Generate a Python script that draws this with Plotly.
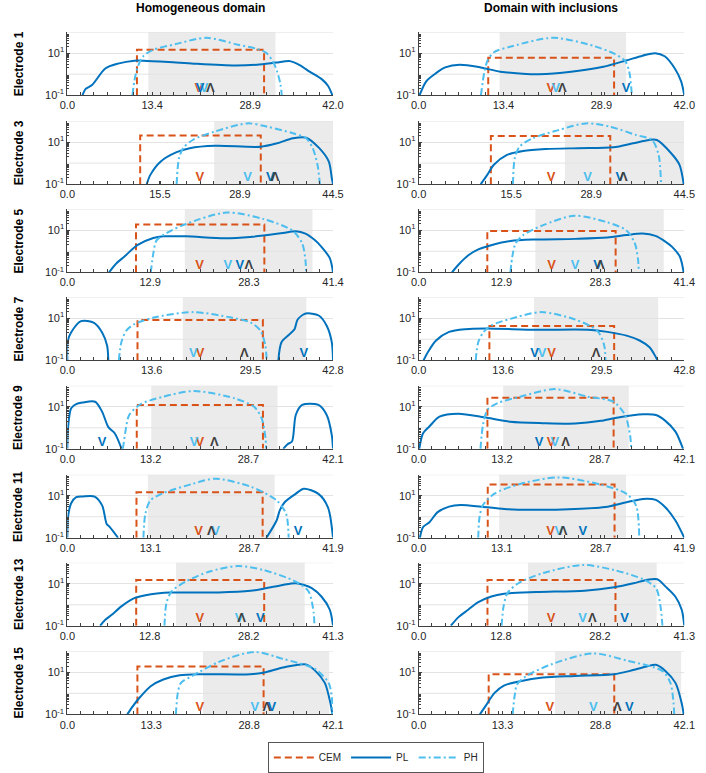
import numpy as np
import plotly.graph_objects as go

# ---------------- data ----------------
electrodes = [1, 3, 5, 7, 9, 11, 13, 15]
column_titles = ["Homogeneous domain", "Domain with inclusions"]
x_max = [42.0, 44.5, 41.4, 42.8, 42.1, 41.9, 41.3, 42.1]
x_ticks = [
    [0.0, 13.4, 28.9, 42.0],
    [0.0, 15.5, 28.9, 44.5],
    [0.0, 12.9, 28.3, 41.4],
    [0.0, 13.6, 29.5, 42.8],
    [0.0, 13.2, 28.7, 42.1],
    [0.0, 13.1, 28.7, 41.9],
    [0.0, 12.8, 28.2, 41.3],
    [0.0, 13.3, 28.8, 42.1],
]
y_tick_vals = [0.1, 10]
y_tick_text = ["10<sup>-1</sup>", "10<sup>1</sup>"]
y_extra_grid = [1, 100]

# ---- homogeneous domain (amplitudes given as log10 values) ----
hom_shade = [[12.8, 32.9], [24.6, 44.5], [18.3, 38.2], [18.6, 38.5],
             [13.3, 33.3], [12.7, 32.7], [16.9, 36.9], [21.5, 41.5]]
hom_cem_x = [[11.0, 31.1], [12.2, 32.4], [10.7, 30.7], [11.3, 31.5],
             [11.0, 31.0], [10.9, 30.8], [10.7, 30.6], [11.1, 31.1]]
hom_cem_log10 = [1.16, 1.31, 1.27, 0.91, 1.09, 1.16, 1.18, 1.28]
hom_ph_x = [
    [10.3, 10.6, 11.2, 12.0, 13.5, 17.0, 22.0, 27.0, 30.0, 31.5, 32.5, 33.2, 33.7, 33.9],
    [18.3, 18.7, 19.4, 21.0, 24.7, 30.2, 33.5, 37.8, 40.0, 41.1, 41.9, 42.3],
    [13.0, 13.4, 13.9, 15.5, 18.5, 24.8, 30.6, 35.1, 36.6, 37.1, 37.2],
    [8.3, 8.7, 9.5, 10.8, 13.9, 20.2, 26.4, 29.5, 31.1, 31.9, 32.1],
    [8.8, 9.2, 9.8, 11.6, 15.2, 20.1, 26.5, 29.6, 30.8, 31.4, 31.5],
    [12.0, 12.3, 13.1, 15.1, 19.7, 23.3, 28.9, 33.0, 34.5, 34.9],
    [15.1, 15.4, 16.2, 18.4, 22.0, 26.5, 30.5, 35.5, 37.5, 38.3, 38.4],
    [17.2, 17.5, 18.0, 19.8, 23.9, 29.6, 34.2, 39.3, 41.4, 41.9, 42.0],
]
hom_ph_log10 = [
    [-1, -0.3, 0.4, 0.85, 1.15, 1.42, 1.73, 1.4, 1.2, 1.0, 0.6, 0.1, -0.5, -1],
    [-1, 0.23, 0.71, 1.1, 1.5, 1.89, 1.73, 1.42, 1.18, 0.71, -0.08, -1],
    [-1, -0.1, 0.52, 0.87, 1.3, 1.84, 1.53, 0.98, 0.37, -0.41, -1],
    [-1, -0.14, 0.41, 0.72, 1.03, 1.29, 1.03, 0.8, 0.41, -0.3, -1],
    [-1, -0.18, 0.61, 1.12, 1.48, 1.75, 1.4, 1.0, 0.45, -0.49, -1],
    [-1, 0.14, 0.78, 1.12, 1.56, 1.81, 1.43, 0.78, 0.14, -1],
    [-1, 0.07, 0.63, 1.1, 1.57, 1.84, 1.65, 1.1, 0.63, -0.4, -1],
    [-1, 0.01, 0.5, 0.83, 1.48, 1.97, 1.64, 1.15, 0.5, -0.15, -1],
]
hom_pl_x = [
    [2.4, 2.9, 3.9, 6.0, 8.0, 10.6, 12.0, 16.0, 20.0, 26.5, 30.0, 33.0, 35.2, 36.8, 38.3, 40.3, 41.2, 41.9],
    [13.3, 13.9, 15.6, 18.3, 20.5, 24.8, 32.4, 35.1, 37.8, 40.0, 42.2, 43.8, 44.3, 44.5],
    [6.5, 7.7, 8.9, 10.9, 13.4, 15.0, 18.5, 24.5, 28.5, 33.6, 35.6, 37.1, 38.6, 39.6, 40.9, 41.4],
    [0.0, 0.05, 0.6, 2.2, 4.3, 5.6, 6.4, 6.6, None,
     34.0, 34.5, 35.8, 36.6, 37.1, 38.4, 40.5, 41.8, 42.6, 42.8],
    [0.0, 0.1, 0.6, 1.4, 2.4, 4.4, 5.5, 6.5, 7.5, 8.6, None,
     34.2, 34.9, 35.6, 36.2, 37.2, 39.8, 41.1, 41.9, 42.1],
    [0.0, 0.1, 0.6, 1.4, 2.4, 4.3, 5.5, 6.2, 6.7, 8.0, None,
     31.4, 33.0, 33.5, 34.3, 36.0, 37.3, 39.6, 41.1, 41.9],
    [5.1, 5.9, 6.9, 8.4, 10.4, 13.0, 15.9, 23.5, 28.5, 31.0, 33.5, 35.5, 36.8, 38.0, 39.5, 40.8, 41.3],
    [9.5, 10.3, 11.6, 13.2, 15.2, 17.8, 21.4, 29.0, 31.6, 34.2, 37.8, 39.3, 40.8, 41.7, 42.0],
]
hom_pl_log10 = [
    [-1, -0.7, -0.52, 0.27, 0.5, 0.64, 0.64, 0.58, 0.5, 0.41, 0.45, 0.55, 0.62, 0.42, 0.12, -0.26, -0.55, -1],
    [-1, -0.56, 0.07, 0.52, 0.71, 0.82, 0.78, 0.94, 1.18, 1.21, 0.71, 0.07, -0.72, -1],
    [-1, -0.56, -0.25, 0.29, 0.63, 0.71, 0.71, 0.62, 0.68, 0.87, 0.95, 0.84, 0.52, 0.21, -0.33, -1],
    [-1, -0.1, 0.32, 0.86, 0.78, 0.32, -0.3, -1, None,
     -1, -0.14, 0.24, 0.48, 0.94, 1.22, 1.13, 0.63, -0.14, -1],
    [-1, -0.02, 0.93, 1.13, 1.2, 1.24, 0.77, 0.03, -0.26, -1, None,
     -1, -0.78, -0.65, 0.61, 1.09, 1.09, 0.61, -0.34, -1],
    [-1, -0.02, 0.64, 0.93, 0.96, 0.96, 0.53, -0.34, -0.49, -1, None,
     -1, -0.18, 0.3, 0.7, 1.09, 1.33, 1.09, 0.45, -1],
    [-1, -0.72, -0.48, -0.08, 0.31, 0.5, 0.58, 0.58, 0.66, 0.79, 0.94, 1.02, 0.94, 0.79, 0.39, -0.24, -1],
    [-1, -0.64, -0.15, 0.34, 0.66, 0.86, 0.91, 0.91, 1.02, 1.23, 1.38, 1.07, 0.5, -0.48, -1],
]
hom_mark_cem = [20.8, 22.2, 20.6, 21.4, 21.0, 20.7, 20.6, 21.0]
hom_mark_ph = [21.6, 30.2, 25.0, 20.3, 20.1, 23.4, 26.7, 29.7]
hom_mark_pl = [21.0, 34.0, 26.9, 38.1, 5.5, 36.4, 30.0, 32.4]
hom_mark_true = [22.6, 34.8, 28.3, 28.5, 23.3, 22.7, 27.1, 31.6]

# ---- domain with inclusions ----
inc_shade = [[12.8, 32.8], [24.5, 44.5], [18.2, 38.2], [18.6, 38.6],
             [13.4, 33.3], [12.7, 32.7], [17.0, 37.0], [21.6, 41.6]]
inc_cem_x = [[11.0, 30.9], [12.1, 32.1], [10.7, 30.7], [11.4, 31.5],
             [10.9, 30.9], [10.9, 30.9], [10.7, 30.6], [11.1, 31.0]]
inc_cem_log10 = [0.78, 1.29, 0.96, 0.63, 1.43, 1.53, 1.18, 0.91]
inc_ph_x = [
    [9.85, 10.4, 10.9, 11.9, 14.9, 21.3, 27.7, 31.0, 32.6, 33.3, 33.7],
    [15.8, 16.1, 16.9, 19.1, 23.4, 28.0, 32.1, 36.4, 39.1, 40.2, 40.6],
    [14.3, 14.6, 15.1, 16.3, 19.3, 24.3, 29.4, 32.4, 33.7, 34.2, 34.3],
    [9.2, 9.6, 10.4, 11.7, 14.8, 19.7, 25.2, 28.8, 29.9, 30.1],
    [9.8, 10.2, 10.9, 12.5, 16.1, 21.6, 26.8, 30.9, 32.7, 33.5, 33.7],
    [9.4, 9.6, 10.1, 11.9, 16.0, 22.1, 28.7, 32.8, 34.3, 34.8],
    [12.9, 13.2, 13.8, 15.5, 19.3, 25.5, 30.4, 34.9, 36.9, 37.6, 37.9],
    [14.9, 15.2, 15.6, 17.1, 21.2, 27.6, 33.0, 38.6, 39.9, 40.4, 40.5],
]
inc_ph_log10 = [
    [-1, 0.12, 0.65, 1.04, 1.34, 1.73, 1.34, 0.96, 0.65, 0.12, -1],
    [-1, 0.23, 0.78, 1.18, 1.57, 1.89, 1.73, 1.34, 1.1, 0.39, -1],
    [-1, -0.25, 0.37, 0.77, 1.23, 1.69, 1.38, 0.99, 0.37, -0.41, -1],
    [-1, -0.14, 0.32, 0.66, 0.97, 1.29, 0.94, 0.4, -0.3, -1],
    [-1, 0.14, 0.85, 1.17, 1.48, 1.84, 1.48, 1.24, 0.61, -0.34, -1],
    [-1, -0.02, 0.53, 1.09, 1.56, 1.87, 1.53, 1.09, 0.53, -1],
    [-1, -0.08, 0.55, 1.02, 1.5, 1.89, 1.65, 1.21, 0.79, -0.08, -1],
    [-1, -0.15, 0.42, 0.83, 1.4, 1.9, 1.56, 1.07, 0.5, -0.48, -1],
]
inc_pl_x = [
    [0.15, 1.2, 2.7, 4.2, 6.5, 9.8, 12.9, 17.0, 19.0, 24.1, 29.2, 32.8, 35.4, 37.4, 38.9, 40.5, 41.5, 42.0],
    [10.4, 11.5, 12.6, 14.8, 17.5, 21.3, 26.7, 32.6, 35.9, 38.6, 39.9, 42.3, 43.7, 44.4],
    [5.2, 6.2, 7.8, 9.3, 11.3, 14.3, 18.3, 24.4, 29.4, 32.4, 34.9, 36.9, 38.5, 39.5, 40.7, 41.3],
    [0.8, 1.5, 2.8, 4.9, 7.5, 10.7, 19.0, 27.3, 30.4, 33.5, 35.6, 37.2, 38.2, 38.5],
    [0.1, 0.7, 1.7, 3.3, 6.3, 10.4, 14.5, 19.7, 24.8, 28.9, 31.4, 35.6, 37.6, 39.1, 40.7, 41.9],
    [0.2, 0.7, 1.7, 3.0, 4.8, 6.6, 9.9, 13.5, 17.5, 24.7, 29.8, 32.8, 35.4, 37.4, 38.9, 40.5, 41.9],
    [5.0, 6.2, 7.7, 9.2, 11.3, 13.3, 18.3, 25.8, 30.4, 33.4, 35.4, 37.1, 38.4, 39.9, 40.9, 41.3],
    [9.7, 10.7, 12.0, 13.5, 16.1, 19.7, 24.8, 31.0, 33.5, 36.1, 37.6, 39.1, 40.7, 41.7, 42.0],
]
inc_pl_log10 = [
    [-1, -0.34, 0.04, 0.32, 0.45, 0.32, 0.12, 0.01, 0.0, 0.12, 0.35, 0.65, 0.88, 1.0, 0.85, 0.27, -0.34, -1],
    [-1, -0.56, -0.08, 0.39, 0.58, 0.67, 0.71, 0.75, 0.94, 1.1, 1.1, 0.47, -0.08, -1],
    [-1, -0.64, -0.18, 0.09, 0.29, 0.49, 0.56, 0.59, 0.65, 0.77, 0.84, 0.73, 0.45, 0.21, -0.25, -1],
    [-1, -0.61, -0.06, 0.35, 0.48, 0.51, 0.45, 0.45, 0.35, 0.17, -0.06, -0.38, -0.84, -1],
    [-1, -0.26, 0.06, 0.53, 0.67, 0.5, 0.29, 0.22, 0.2, 0.33, 0.48, 0.64, 0.61, 0.33, -0.18, -1],
    [-1, -0.49, -0.26, 0.22, 0.48, 0.56, 0.48, 0.37, 0.33, 0.37, 0.48, 0.69, 0.85, 0.8, 0.45, -0.18, -1],
    [-1, -0.59, -0.24, 0.11, 0.39, 0.52, 0.6, 0.67, 0.83, 1.02, 1.18, 1.21, 0.86, 0.39, -0.24, -1],
    [-1, -0.56, 0.01, 0.37, 0.58, 0.75, 0.83, 0.91, 1.07, 1.28, 1.36, 1.07, 0.5, -0.48, -1],
]
inc_mark_cem = [20.9, 22.2, 20.7, 21.4, 21.0, 20.8, 20.6, 20.8]
inc_mark_ph = [21.7, 28.3, 24.4, 19.9, 21.6, 22.1, 25.5, 27.7]
inc_mark_pl = [32.8, 33.7, 27.9, 18.7, 19.1, 25.9, 32.0, 33.4]
inc_mark_true = [22.7, 34.3, 28.3, 28.6, 23.3, 22.8, 27.0, 31.5]

# ---------------- styling ----------------
W, H = 706, 773
C_CEM = "#D95319"
C_PL = "#0072BD"
C_PH = "#4DBEEE"
C_TRUE = "#404040"
AX = "#404040"
GRID = "#e3e3e3"
FONT = "Liberation Sans, Arial, sans-serif"
Y_MIN, Y_MAX = 0.1, 100.0

col_x_px = [(61, 334), (422, 695)]
row_top_px = [32.5, 122.5, 211.7, 300.7, 390.3, 480.3, 569.3, 659.0]
row_h_px = 63.8


def tolin(vals):
    return [None if v is None else 10 ** v for v in vals]


columns = [
    dict(shade=hom_shade, cem_x=hom_cem_x, cem=hom_cem_log10, ph_x=hom_ph_x, ph=hom_ph_log10,
         pl_x=hom_pl_x, pl=hom_pl_log10, m_cem=hom_mark_cem, m_ph=hom_mark_ph,
         m_pl=hom_mark_pl, m_true=hom_mark_true),
    dict(shade=inc_shade, cem_x=inc_cem_x, cem=inc_cem_log10, ph_x=inc_ph_x, ph=inc_ph_log10,
         pl_x=inc_pl_x, pl=inc_pl_log10, m_cem=inc_mark_cem, m_ph=inc_mark_ph,
         m_pl=inc_mark_pl, m_true=inc_mark_true),
]

fig = go.Figure()
layout = {}
shapes = []
annotations = []

y_minor = [k * 10.0 ** e for e in (-1, 0, 1) for k in range(2, 10)]

first_legend = True
for c, col in enumerate(columns):
    for r in range(len(electrodes)):
        idx = r * 2 + c + 1
        xa = "x" if idx == 1 else f"x{idx}"
        ya = "y" if idx == 1 else f"y{idx}"
        xkey = "xaxis" if idx == 1 else f"xaxis{idx}"
        ykey = "yaxis" if idx == 1 else f"yaxis{idx}"
        L = x_max[r]
        x0p, x1p = col_x_px[c]
        top = row_top_px[r]
        ydom = [1 - (top + row_h_px) / H, 1 - top / H]

        layout[xkey] = dict(
            domain=[x0p / W, x1p / W], anchor=ya, range=[0, L],
            tickmode="array", tickvals=x_ticks[r],
            ticktext=[f"{v:.1f}" for v in x_ticks[r]],
            ticks="inside", ticklen=3, tickcolor=AX,
            minor=dict(ticks="inside", ticklen=3, tickcolor=AX, tick0=0, dtick=L / 20, showgrid=False),
            showline=True, linecolor=AX, linewidth=1, showgrid=False, zeroline=False,
            tickfont=dict(family=FONT, size=11, color="#262626"), fixedrange=True,
        )
        layout[ykey] = dict(
            domain=ydom, anchor=xa, type="log", range=[np.log10(Y_MIN), np.log10(Y_MAX)],
            tickmode="array", tickvals=y_tick_vals, ticktext=y_tick_text,
            ticks="inside", ticklen=3, tickcolor=AX,
            minor=dict(ticks="inside", ticklen=2, tickcolor=AX, tickmode="array",
                       tickvals=y_minor, showgrid=False),
            showline=True, linecolor=AX, linewidth=1,
            showgrid=True, gridcolor=GRID, gridwidth=1, zeroline=False,
            tickfont=dict(family=FONT, size=11, color="#262626"), fixedrange=True,
        )

        # shaded region
        sx = col["shade"][r]
        shapes.append(dict(type="rect", xref=xa, yref=f"{ya} domain", x0=sx[0], x1=sx[1],
                           y0=0, y1=1, fillcolor="#ebebeb", line=dict(width=0), layer="below"))
        # unlabelled decade grid lines
        for gy in y_extra_grid:
            shapes.append(dict(type="line", xref=f"{xa} domain", yref=ya, x0=0, x1=1,
                               y0=gy, y1=gy, line=dict(color=GRID, width=1), layer="below"))

        # CEM
        cx = col["cem_x"][r]
        lvl = 10 ** col["cem"][r]
        fig.add_trace(go.Scatter(
            x=[cx[0], cx[0], cx[1], cx[1]], y=[Y_MIN, lvl, lvl, Y_MIN],
            xaxis=xa, yaxis=ya, mode="lines", name="CEM", legendrank=1,
            line=dict(color=C_CEM, width=2, dash="7px,4px"),
            showlegend=first_legend))
        # PL
        fig.add_trace(go.Scatter(
            x=col["pl_x"][r], y=tolin(col["pl"][r]), xaxis=xa, yaxis=ya, mode="lines",
            name="PL", legendrank=2, connectgaps=False,
            line=dict(color=C_PL, width=2, shape="spline", smoothing=0.8),
            showlegend=first_legend))
        # PH
        fig.add_trace(go.Scatter(
            x=col["ph_x"][r], y=tolin(col["ph"][r]), xaxis=xa, yaxis=ya, mode="lines",
            name="PH", legendrank=3,
            line=dict(color=C_PH, width=2, dash="7px,3px,2px,3px", shape="spline", smoothing=0.8),
            showlegend=first_legend))
        first_legend = False

        # location markers
        for key, txt, colr in (("m_cem", "V", C_CEM), ("m_ph", "V", C_PH),
                               ("m_pl", "V", C_PL), ("m_true", "Λ", C_TRUE)):
            fig.add_trace(go.Scatter(
                x=[col[key][r]], y=[Y_MIN], xaxis=xa, yaxis=ya, mode="text",
                text=[f"<b>{txt}</b>"], textposition="top center",
                textfont=dict(family=FONT, size=13, color=colr),
                showlegend=False, hoverinfo="skip", cliponaxis=False))

        if c == 0:
            annotations.append(dict(
                text=f"<b>Electrode {electrodes[r]}</b>", xref="paper", yref="paper",
                x=11 / W, y=(ydom[0] + ydom[1]) / 2, textangle=-90, showarrow=False,
                xanchor="center", yanchor="middle",
                font=dict(family=FONT, size=12, color="#000000")))

for c, title in enumerate(column_titles):
    x0p, x1p = col_x_px[c]
    annotations.append(dict(
        text=f"<b>{title}</b>", xref="paper", yref="paper", x=(x0p + x1p) / 2 / W,
        y=1 - 8 / H, showarrow=False, xanchor="center", yanchor="middle",
        font=dict(family=FONT, size=12, color="#000000")))

fig.update_layout(
    width=W, height=H, margin=dict(l=0, r=0, t=0, b=0),
    paper_bgcolor="white", plot_bgcolor="white",
    shapes=shapes, annotations=annotations,
    legend=dict(orientation="h", x=378 / W, y=1 - 751 / H, xanchor="center", yanchor="top",
                bordercolor="#555555", borderwidth=1, bgcolor="white",
                font=dict(family=FONT, size=10, color="#262626"),
                itemwidth=40, tracegroupgap=0),
    **layout,
)

fig.write_html(
    "out.html",
    config={"displayModeBar": False, "staticPlot": True},
    post_script="document.body.style.margin='0';document.body.style.padding='0';"
                "document.body.style.overflow='hidden';",
)
